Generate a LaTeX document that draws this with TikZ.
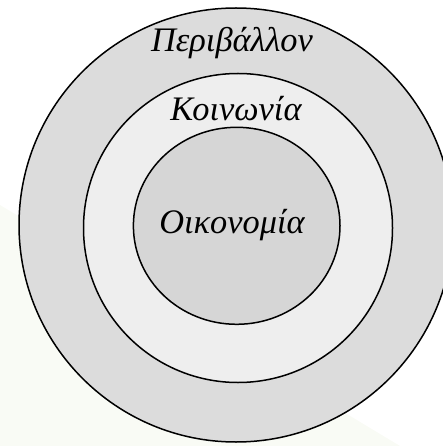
\documentclass[tikz,border=0pt]{standalone}
\usepackage{fontspec}
\setmainfont{Liberation Serif}
\definecolor{outerfill}{HTML}{DCDCDC}
\definecolor{midfill}{HTML}{EEEEEE}
\definecolor{innerfill}{HTML}{D6D6D6}
\definecolor{swoosh}{HTML}{F9FBF5}
\begin{document}
\begin{tikzpicture}[x=1bp,y=-1bp,
  ring/.style={draw=black,line width=1.5bp},
  lbl/.style={font=\fontsize{34.5}{34.5}\selectfont\itshape,inner sep=0pt}]
\useasboundingbox (0,0) rectangle (443,446);
\begin{scope}
\clip (0,0) rectangle (443,446);
\fill[swoosh] (0,205) -- (400,446) -- (0,446) -- cycle;
\draw[ring,fill=outerfill] (236,225) circle (217);
\draw[ring,fill=midfill] (238,228) circle (154.5);
\draw[ring,fill=innerfill] (236.7,225.8) ellipse (103.3 and 98.5);
\end{scope}
\node[lbl] (env) at (232,43) {Περιβάλλον};
\node[lbl] (soc) at (236,109) {Κοινωνία};
\node[lbl] (eco) at (232,225) {Οικονομία};
\end{tikzpicture}
\end{document}
